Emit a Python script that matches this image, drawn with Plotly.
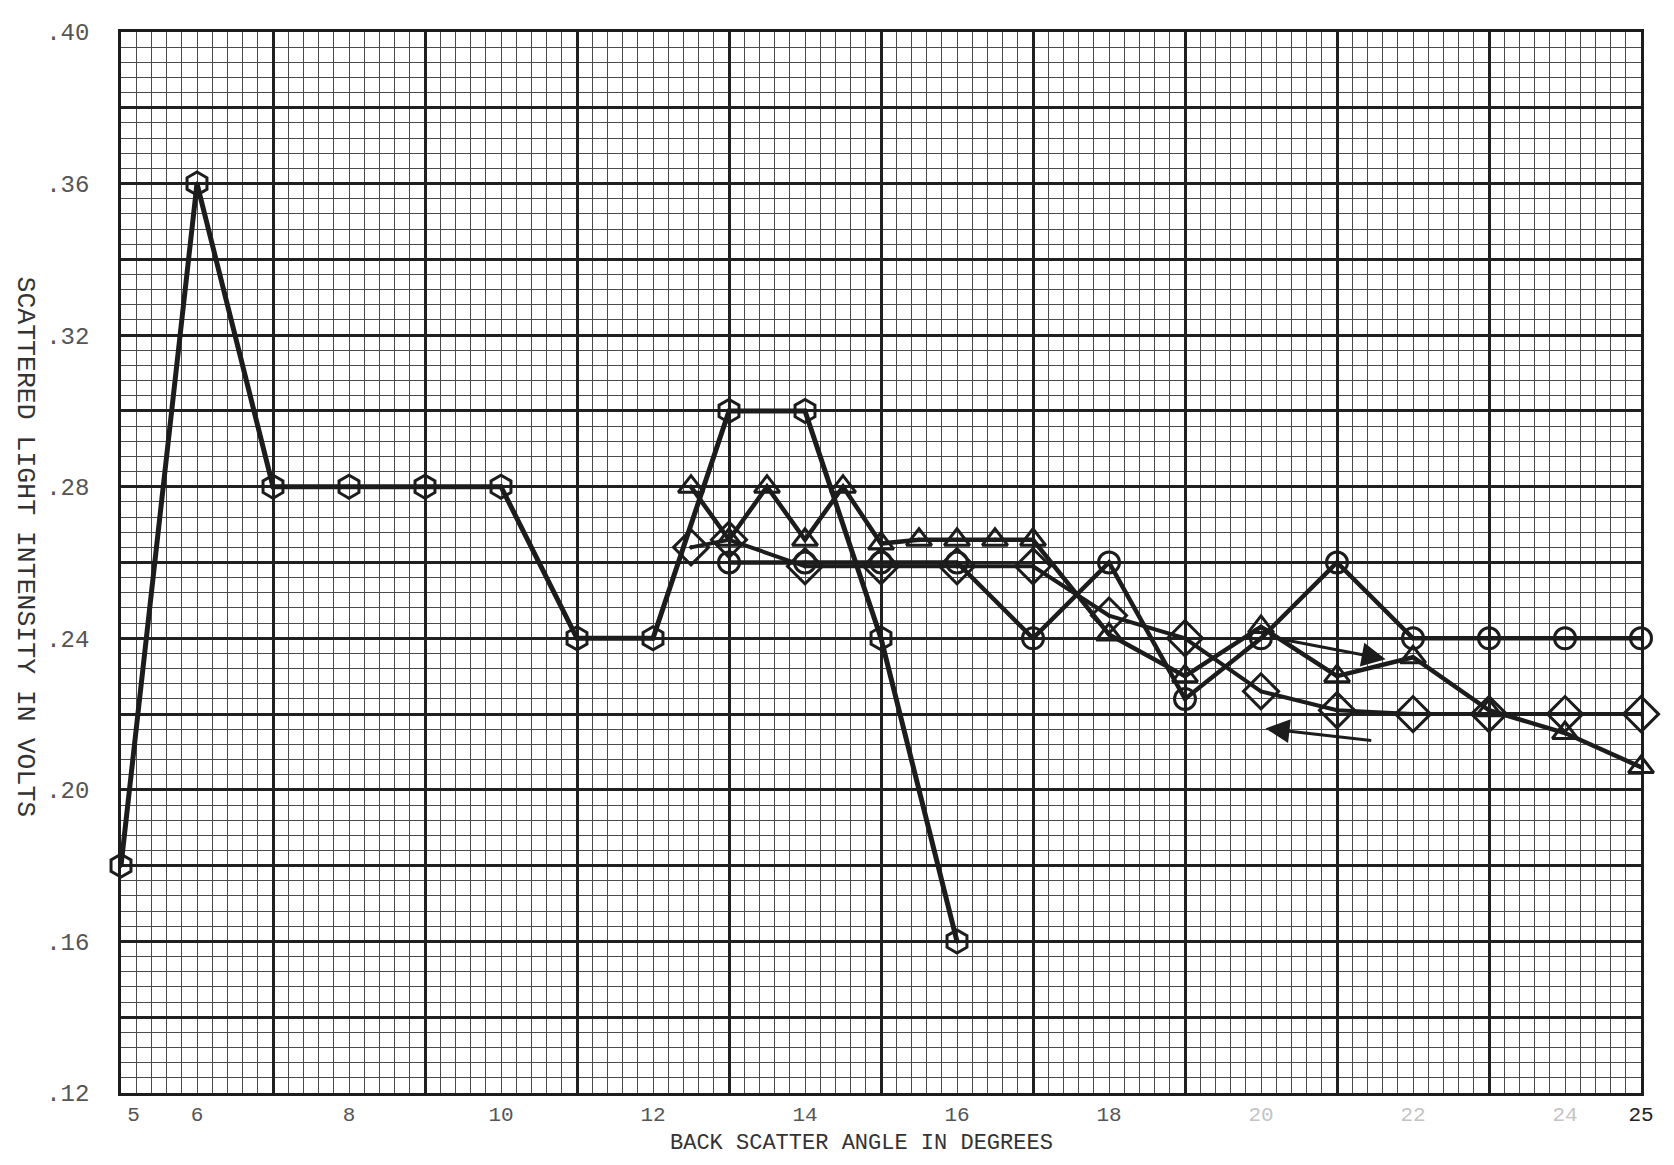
import plotly.graph_objects as go

# ---------------- data ----------------
series_a_x = [5, 6, 7, 8, 9, 10, 11, 12, 13, 14, 15, 16]
series_a_y = [0.18, 0.36, 0.28, 0.28, 0.28, 0.28, 0.24, 0.24, 0.30, 0.30, 0.24, 0.16]

series_b_x = [13, 14, 15, 16, 17, 18, 19, 20, 21, 22, 23, 24, 25]
series_b_y = [0.26, 0.26, 0.26, 0.26, 0.24, 0.26, 0.224, 0.24, 0.26, 0.24, 0.24, 0.24, 0.24]

series_c_x = [12.5, 13, 13.5, 14, 14.5, 15, 15.5, 16, 16.5, 17, 18, 19, 20, 21, 22, 23, 24, 25]
series_c_y = [0.28, 0.266, 0.28, 0.266, 0.28, 0.265, 0.266, 0.266, 0.266, 0.266,
              0.241, 0.23, 0.243, 0.23, 0.235, 0.221, 0.215, 0.206]

series_d_x = [12.5, 13, 14, 15, 16, 17, 18, 19, 20, 21, 22, 23, 24, 25]
series_d_y = [0.264, 0.266, 0.259, 0.259, 0.259, 0.259, 0.246, 0.24, 0.226, 0.221, 0.22, 0.22, 0.22, 0.22]

NB = '\u00a0'
x_tickvals = [5, 6, 8, 10, 12, 14, 16, 18, 20, 22, 24, 25]
x_ticktext = [NB + NB + '5', '6', '8', '10', '12', '14', '16', '18',
              '<span style="color:#c4c4c4">20</span>',
              '<span style="color:#c4c4c4">22</span>',
              '<span style="color:#c4c4c4">24</span>',
              '<span style="color:#222">25</span>']
y_tickvals = [0.12, 0.16, 0.20, 0.24, 0.28, 0.32, 0.36, 0.40]
y_ticktext = ['.12', '.16', '.20', '.24', '.28', '.32', '.36', '.40']

# hand-drawn arrows: (tail_x, tail_y, head_x, head_y)
arrow_notes = [(20.2, 0.2400, 21.64, 0.2345),
               (21.47, 0.2130, 20.06, 0.2162)]

X_RANGE = [5, 25]
Y_RANGE = [0.12, 0.40]

INK = '#1c1c1c'
FONT = 'Liberation Mono, Courier New, monospace'

fig = go.Figure()

# empty traces so the grid-only overlay axes get drawn
for ax_id in ['2', '3']:
    fig.add_trace(go.Scatter(x=[None], y=[None], xaxis='x' + ax_id, yaxis='y' + ax_id,
                             showlegend=False, hoverinfo='skip', mode='markers'))

def add_series(xs, ys, symbol, size, width):
    fig.add_trace(go.Scatter(
        x=xs, y=ys, mode='lines+markers',
        line=dict(color=INK, width=width),
        marker=dict(symbol=symbol, size=size, color=INK,
                    line=dict(color=INK, width=3)),
        showlegend=False, cliponaxis=False))

add_series(series_a_x, series_a_y, 'hexagon-open-dot', 23, 5)
add_series(series_b_x, series_b_y, 'circle-open-dot', 21, 4.5)
add_series(series_c_x, series_c_y, 'triangle-up-open-dot', 22, 4.5)
add_series(series_d_x, series_d_y, 'diamond-open-dot', 27, 4)

annotations = []
for tx, ty, hx, hy in arrow_notes:
    annotations.append(dict(x=hx, y=hy, ax=tx, ay=ty, xref='x', yref='y',
                            axref='x', ayref='y', text='', showarrow=True,
                            arrowhead=2, arrowsize=1.6, arrowwidth=3,
                            arrowcolor=INK))

annotations.append(dict(text='SCATTERED LIGHT INTENSITY IN VOLTS', textangle=90,
                        xref='paper', yref='paper', x=0, y=0.5, xanchor='center',
                        yanchor='middle', xshift=-96, yshift=16, showarrow=False,
                        font=dict(family=FONT, size=26.5, color='#333')))
annotations.append(dict(text='BACK SCATTER ANGLE IN DEGREES',
                        xref='paper', yref='paper', x=0.5, y=0, xanchor='center',
                        yanchor='middle', xshift=-20, yshift=-50, showarrow=False,
                        font=dict(family=FONT, size=22, color='#333')))

common_hidden = dict(showticklabels=False, ticks='', zeroline=False, showline=False)

fig.update_layout(
    width=1658, height=1149,
    margin=dict(l=113, r=16, t=13, b=64),
    paper_bgcolor='white', plot_bgcolor='white',
    annotations=annotations,
    xaxis=dict(range=X_RANGE, tickmode='array', tickvals=x_tickvals, ticktext=x_ticktext,
               showgrid=False, zeroline=False, ticks='', ticklabelstandoff=0,
               showline=True, mirror=True, linecolor=INK, linewidth=2.5,
               tickfont=dict(family=FONT, size=21, color='#555')),
    yaxis=dict(range=Y_RANGE, tickmode='array', tickvals=y_tickvals, ticktext=y_ticktext,
               showgrid=False, zeroline=False, ticks='', ticklabelstandoff=24,
               showline=True, mirror=True, linecolor=INK, linewidth=2.5,
               tickfont=dict(family=FONT, size=24, color='#555')),
    # fine grid
    xaxis2=dict(range=X_RANGE, overlaying='x', anchor='y2', tickmode='linear', tick0=5, dtick=0.2,
                showgrid=True, gridcolor='#4a4a4a', gridwidth=1, **common_hidden),
    yaxis2=dict(range=Y_RANGE, overlaying='y', anchor='x2', tickmode='linear', tick0=0.12, dtick=0.004,
                showgrid=True, gridcolor='#4a4a4a', gridwidth=1, **common_hidden),
    # heavy grid
    xaxis3=dict(range=X_RANGE, overlaying='x', anchor='y3', tickmode='linear', tick0=5, dtick=2,
                showgrid=True, gridcolor='#202020', gridwidth=2.5, **common_hidden),
    yaxis3=dict(range=Y_RANGE, overlaying='y', anchor='x3', tickmode='linear', tick0=0.12, dtick=0.02,
                showgrid=True, gridcolor='#202020', gridwidth=2.5, **common_hidden),
)

fig.write_html("out.html")
